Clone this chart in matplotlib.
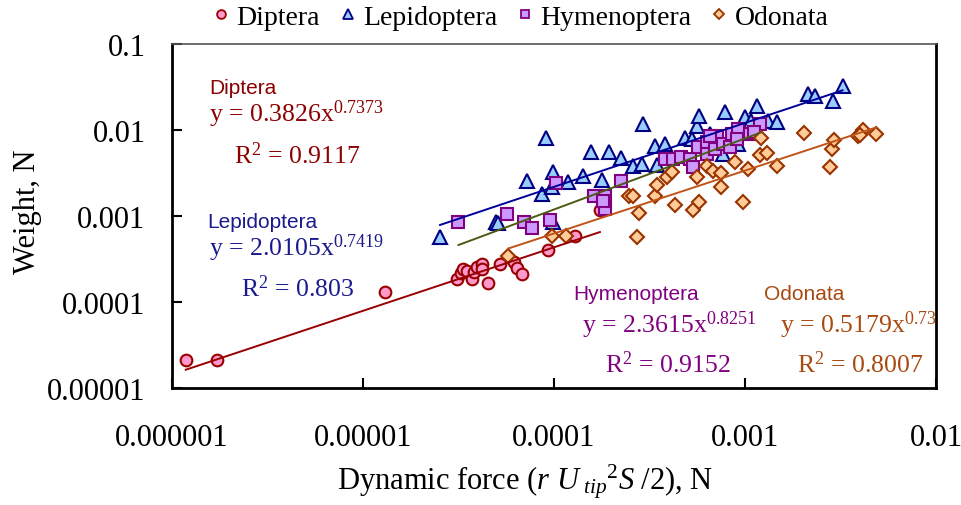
import matplotlib
matplotlib.use("Agg")
import matplotlib.pyplot as plt
from matplotlib.lines import Line2D
from matplotlib.ticker import NullLocator
import numpy as np

plt.rcParams['font.family'] = ['Liberation Serif', 'DejaVu Serif']
plt.rcParams['mathtext.fontset'] = 'custom'
plt.rcParams['mathtext.rm'] = 'Liberation Serif'
plt.rcParams['mathtext.it'] = 'Liberation Serif:italic'
plt.rcParams['mathtext.bf'] = 'Liberation Serif:bold'

# dynamic force (N) and body weight (N) for each insect order
diptera_force = [1.18e-6, 1.73e-6, 1.30e-5, 3.09e-5, 3.26e-5, 3.34e-5, 3.50e-5, 3.71e-5, 3.81e-5, 3.95e-5,
                 4.18e-5, 4.18e-5, 4.53e-5, 5.19e-5, 6.17e-5, 6.38e-5, 6.78e-5, 9.27e-5, 1.29e-4, 1.74e-4]
diptera_weight = [2.11e-5, 2.11e-5, 1.31e-4, 1.82e-4, 2.17e-4, 2.41e-4, 2.29e-4, 1.82e-4, 2.22e-4, 2.54e-4,
                  2.72e-4, 2.44e-4, 1.64e-4, 2.75e-4, 2.87e-4, 2.48e-4, 2.11e-4, 4.04e-4, 5.88e-4, 1.18e-3]

lepidoptera_force = [2.53e-5, 4.96e-5, 5.09e-5, 9.91e-5, 7.24e-5, 8.65e-5, 9.91e-5, 9.73e-5, 1.18e-4, 9.05e-5,
                     1.42e-4, 1.57e-4, 1.78e-4, 1.94e-4, 2.24e-4, 2.60e-4, 2.90e-4, 2.93e-4, 3.39e-4, 3.47e-4,
                     3.81e-4, 4.85e-4, 5.58e-4, 5.77e-4, 6.56e-4, 7.69e-4, 7.85e-4, 9.23e-4, 1.00e-3, 1.08e-3,
                     1.15e-3, 1.32e-3, 1.47e-3, 2.14e-3, 2.32e-3, 2.88e-3, 3.24e-3, 5.26e-4]
lepidoptera_weight = [5.71e-4, 8.40e-4, 8.24e-4, 8.40e-4, 2.56e-3, 1.79e-3, 3.20e-3, 2.14e-3, 2.45e-3, 7.94e-3,
                      2.92e-3, 5.46e-3, 2.62e-3, 5.46e-3, 4.69e-3, 3.76e-3, 4.00e-3, 1.16e-2, 6.41e-3, 3.89e-3,
                      6.82e-3, 8.01e-3, 1.10e-2, 1.45e-2, 8.91e-3, 5.22e-3, 1.62e-2, 6.82e-3, 1.39e-2, 1.27e-2,
                      1.90e-2, 1.27e-2, 1.24e-2, 2.60e-2, 2.48e-2, 2.17e-2, 3.24e-2, 7.80e-3]

hymenoptera_force = [3.16e-5, 5.69e-5, 6.97e-5, 7.69e-5, 9.53e-5, 1.03e-4, 1.61e-4, 1.85e-4, 1.85e-4, 1.81e-4,
                     2.24e-4, 3.81e-4, 4.21e-4, 4.62e-4, 5.15e-4, 5.36e-4, 5.69e-4, 6.30e-4, 6.30e-4, 6.97e-4,
                     7.11e-4, 7.69e-4, 8.34e-4, 8.51e-4, 9.23e-4, 9.04e-4, 1.06e-3, 1.20e-3, 1.11e-3, 6.56e-4]
hymenoptera_weight = [8.54e-4, 1.05e-3, 8.40e-4, 7.21e-4, 9.01e-4, 2.38e-3, 1.71e-3, 1.71e-3, 1.20e-3, 1.50e-3,
                      2.52e-3, 4.57e-3, 4.57e-3, 4.78e-3, 4.57e-3, 3.66e-3, 6.25e-3, 7.14e-3, 5.22e-3, 5.97e-3,
                      8.51e-3, 6.82e-3, 6.25e-3, 8.91e-3, 1.02e-2, 7.80e-3, 8.91e-3, 1.16e-2, 9.33e-3, 8.51e-3]

odonata_force = [5.76e-5, 9.73e-5, 1.15e-4, 2.71e-4, 2.79e-4, 2.48e-4, 2.60e-4, 3.38e-4, 3.47e-4, 3.89e-4,
                 4.16e-4, 4.31e-4, 5.36e-4, 5.77e-4, 5.58e-4, 6.30e-4, 6.76e-4, 7.46e-4, 7.46e-4, 8.87e-4,
                 9.73e-4, 1.04e-3, 1.21e-3, 1.20e-3, 1.30e-3, 1.47e-3, 2.04e-3, 2.79e-3, 2.85e-3, 2.93e-3,
                 3.92e-3, 4.16e-3, 4.85e-3, 4.00e-3]
odonata_weight = [3.44e-4, 5.78e-4, 5.83e-4, 5.62e-4, 1.07e-3, 1.68e-3, 1.71e-3, 1.71e-3, 2.28e-3, 2.80e-3,
                  3.20e-3, 1.35e-3, 1.18e-3, 1.46e-3, 2.80e-3, 3.74e-3, 3.27e-3, 3.17e-3, 2.16e-3, 4.25e-3,
                  1.46e-3, 3.50e-3, 8.01e-3, 5.04e-3, 5.41e-3, 3.82e-3, 9.16e-3, 3.66e-3, 5.92e-3, 7.59e-3,
                  8.51e-3, 9.84e-3, 8.91e-3, 8.67e-3]

# power-law fits y = a * x^b
orders = ['Diptera', 'Lepidoptera', 'Hymenoptera', 'Odonata']
fit_a = [0.3826, 2.0105, 2.3615, 0.5179]
fit_b = ['0.7373', '0.7419', '0.8251', '0.73']
fit_r2 = ['0.9117', '0.803', '0.9152', '0.8007']

x_ticks = [1e-6, 1e-5, 1e-4, 1e-3, 1e-2]
x_ticklabels = ['0.000001', '0.00001', '0.0001', '0.001', '0.01']
y_ticks = [1e-5, 1e-4, 1e-3, 1e-2, 1e-1]
y_ticklabels = ['0.00001', '0.0001', '0.001', '0.01', '0.1']

forces = [diptera_force, lepidoptera_force, hymenoptera_force, odonata_force]
weights = [diptera_weight, lepidoptera_weight, hymenoptera_weight, odonata_weight]
markers = ['o', '^', 's', 'D']
msizes = [8.4, 9.6, 8.0, 6.8]
fills = ['#ff99cc', '#99ccff', '#cc99ff', '#ffcc99']
edges = ['#990000', '#000080', '#800080', '#993300']
line_colors = ['#990000', '#000099', '#4d5a14', '#c05418']
text_colors = ['#8b0000', '#1a1a8c', '#800080', '#a84a10']

W, H = 962, 506
fig = plt.figure(figsize=(W / 100, H / 100), dpi=100)
ax = fig.add_axes([172 / W, 1 - 389 / H, (936 - 172) / W, (389 - 44.5) / H])

for xs, ys, m, ms, fc, ec in zip(forces, weights, markers, msizes, fills, edges):
    ax.plot(xs, ys, linestyle='none', marker=m, ms=ms, mfc=fc, mec=ec, mew=1.5, zorder=3)

# trend lines over the data span of each order
for xs, a, b, c in zip(forces, fit_a, fit_b, line_colors):
    xx = np.logspace(np.log10(min(xs)), np.log10(max(xs)), 100)
    ax.plot(xx, a * xx ** float(b), color=c, lw=1.4, zorder=4)

ax.set_xscale('log')
ax.set_yscale('log')
ax.set_xlim(1e-6, 1e-2)
ax.set_ylim(1e-5, 1e-1)
ax.set_xticks(x_ticks)
ax.set_xticklabels(x_ticklabels)
ax.set_yticks(y_ticks)
ax.set_yticklabels(y_ticklabels)
ax.xaxis.set_minor_locator(NullLocator())
ax.yaxis.set_minor_locator(NullLocator())
ax.tick_params(axis='both', direction='in', length=7, width=1.5, labelsize=22)
ax.tick_params(axis='x', pad=25)
ax.tick_params(axis='y', pad=19)

for side in ['left', 'bottom', 'right']:
    ax.spines[side].set_linewidth(2)
ax.spines['top'].set_linewidth(1.2)
ax.spines['top'].set_color('#555555')

fig.text(27 / W, 1 - 212 / H, 'Weight, N', rotation=90, fontsize=22, ha='center', va='center')
fig.text(525 / W, 1 - 490 / H, r'Dynamic force ($r\ U_{\ tip}{}^{2}S\ /2$), N',
         fontsize=22, ha='center', va='baseline')

# fit equations
label_pos = [(209, 94), (207.7, 227.7), (573.3, 300), (764, 300)]
eq_pos = [(209, 122), (209, 256), (581.7, 333.3), (780, 333)]
r2_pos = [(234, 164), (240.7, 297.3), (605, 373.3), (796.7, 373)]
for i, name in enumerate(orders):
    c = text_colors[i]
    fig.text(label_pos[i][0] / W, 1 - label_pos[i][1] / H, name, color=c,
             family='Liberation Sans', fontsize=15, va='baseline')
    fig.text(eq_pos[i][0] / W, 1 - eq_pos[i][1] / H,
             'y = %sx$^{%s}$' % (fit_a[i], fit_b[i]), color=c, fontsize=18.5, va='baseline')
    fig.text(r2_pos[i][0] / W, 1 - r2_pos[i][1] / H,
             'R$^{2}$ = %s' % fit_r2[i], color=c, fontsize=18.5, va='baseline')

handles = [Line2D([], [], linestyle='none', marker=m, ms=ms * 0.75, mfc=fc, mec=ec, mew=1.3)
           for m, ms, fc, ec in zip(markers, msizes, fills, edges)]
fig.legend(handles, orders, loc='center', bbox_to_anchor=(522 / W, 1 - 18 / H), ncol=4,
           frameon=False, fontsize=20, handlelength=0.4, handletextpad=0.35, columnspacing=0.8,
           borderpad=0, borderaxespad=0)

fig.savefig('out.png', dpi=100)
